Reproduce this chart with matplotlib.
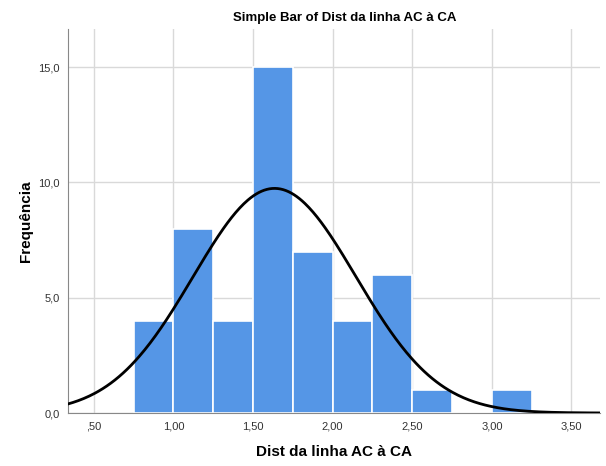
import numpy as np
import matplotlib
matplotlib.use("Agg")
import matplotlib.pyplot as plt

plt.rcParams['font.family'] = ['Liberation Sans', 'DejaVu Sans']

# histogram bins (lower edges) and counts
bin_left = [0.75, 1.00, 1.25, 1.50, 1.75, 2.00, 2.25, 2.50, 2.75, 3.00]
counts = [4, 8, 4, 15, 7, 4, 6, 1, 0, 1]
bin_width = 0.25
n_total = 50
mean_val = 1.635
sd_val = 0.512

xticks = [0.5, 1.0, 1.5, 2.0, 2.5, 3.0, 3.5]
xtick_labels = [",50", "1,00", "1,50", "2,00", "2,50", "3,00", "3,50"]
yticks = [0, 5, 10, 15]
ytick_labels = ["0,0", "5,0", "10,0", "15,0"]

fig = plt.figure(figsize=(6.06, 4.66), dpi=100)
ax = fig.add_axes([0.1122, 0.1137, 0.878, 0.824])

ax.bar(bin_left, counts, width=bin_width, align="edge", color="#5596e6",
       edgecolor="white", linewidth=1.2, zorder=2)

xs = np.linspace(0.3, 3.7, 400)
ys = n_total * bin_width / (sd_val * np.sqrt(2 * np.pi)) * np.exp(-0.5 * ((xs - mean_val) / sd_val) ** 2)
ax.plot(xs, ys, color="black", linewidth=2, zorder=3)

ax.set_xlim(0.3375, 3.68)
ax.set_ylim(0, 16.65)
ax.set_xticks(xticks)
ax.set_xticklabels(xtick_labels)
ax.set_yticks(yticks)
ax.set_yticklabels(ytick_labels)
ax.tick_params(length=0, labelsize=8, colors="#333333", pad=6)

ax.grid(True, color="#d9d9d9", linewidth=1, zorder=0)
ax.set_axisbelow(True)
for s in ["top", "right"]:
    ax.spines[s].set_visible(False)
for s in ["left", "bottom"]:
    ax.spines[s].set_color("#888888")

ax.set_title("Simple Bar of Dist da linha AC à CA", fontsize=9.5, fontweight="bold", pad=6, x=0.52)
ax.set_xlabel("Dist da linha AC à CA", fontsize=11, fontweight="bold", labelpad=10)
ax.set_ylabel("Frequência", fontsize=11, fontweight="bold", labelpad=4)

fig.savefig("out.png", dpi=100)
